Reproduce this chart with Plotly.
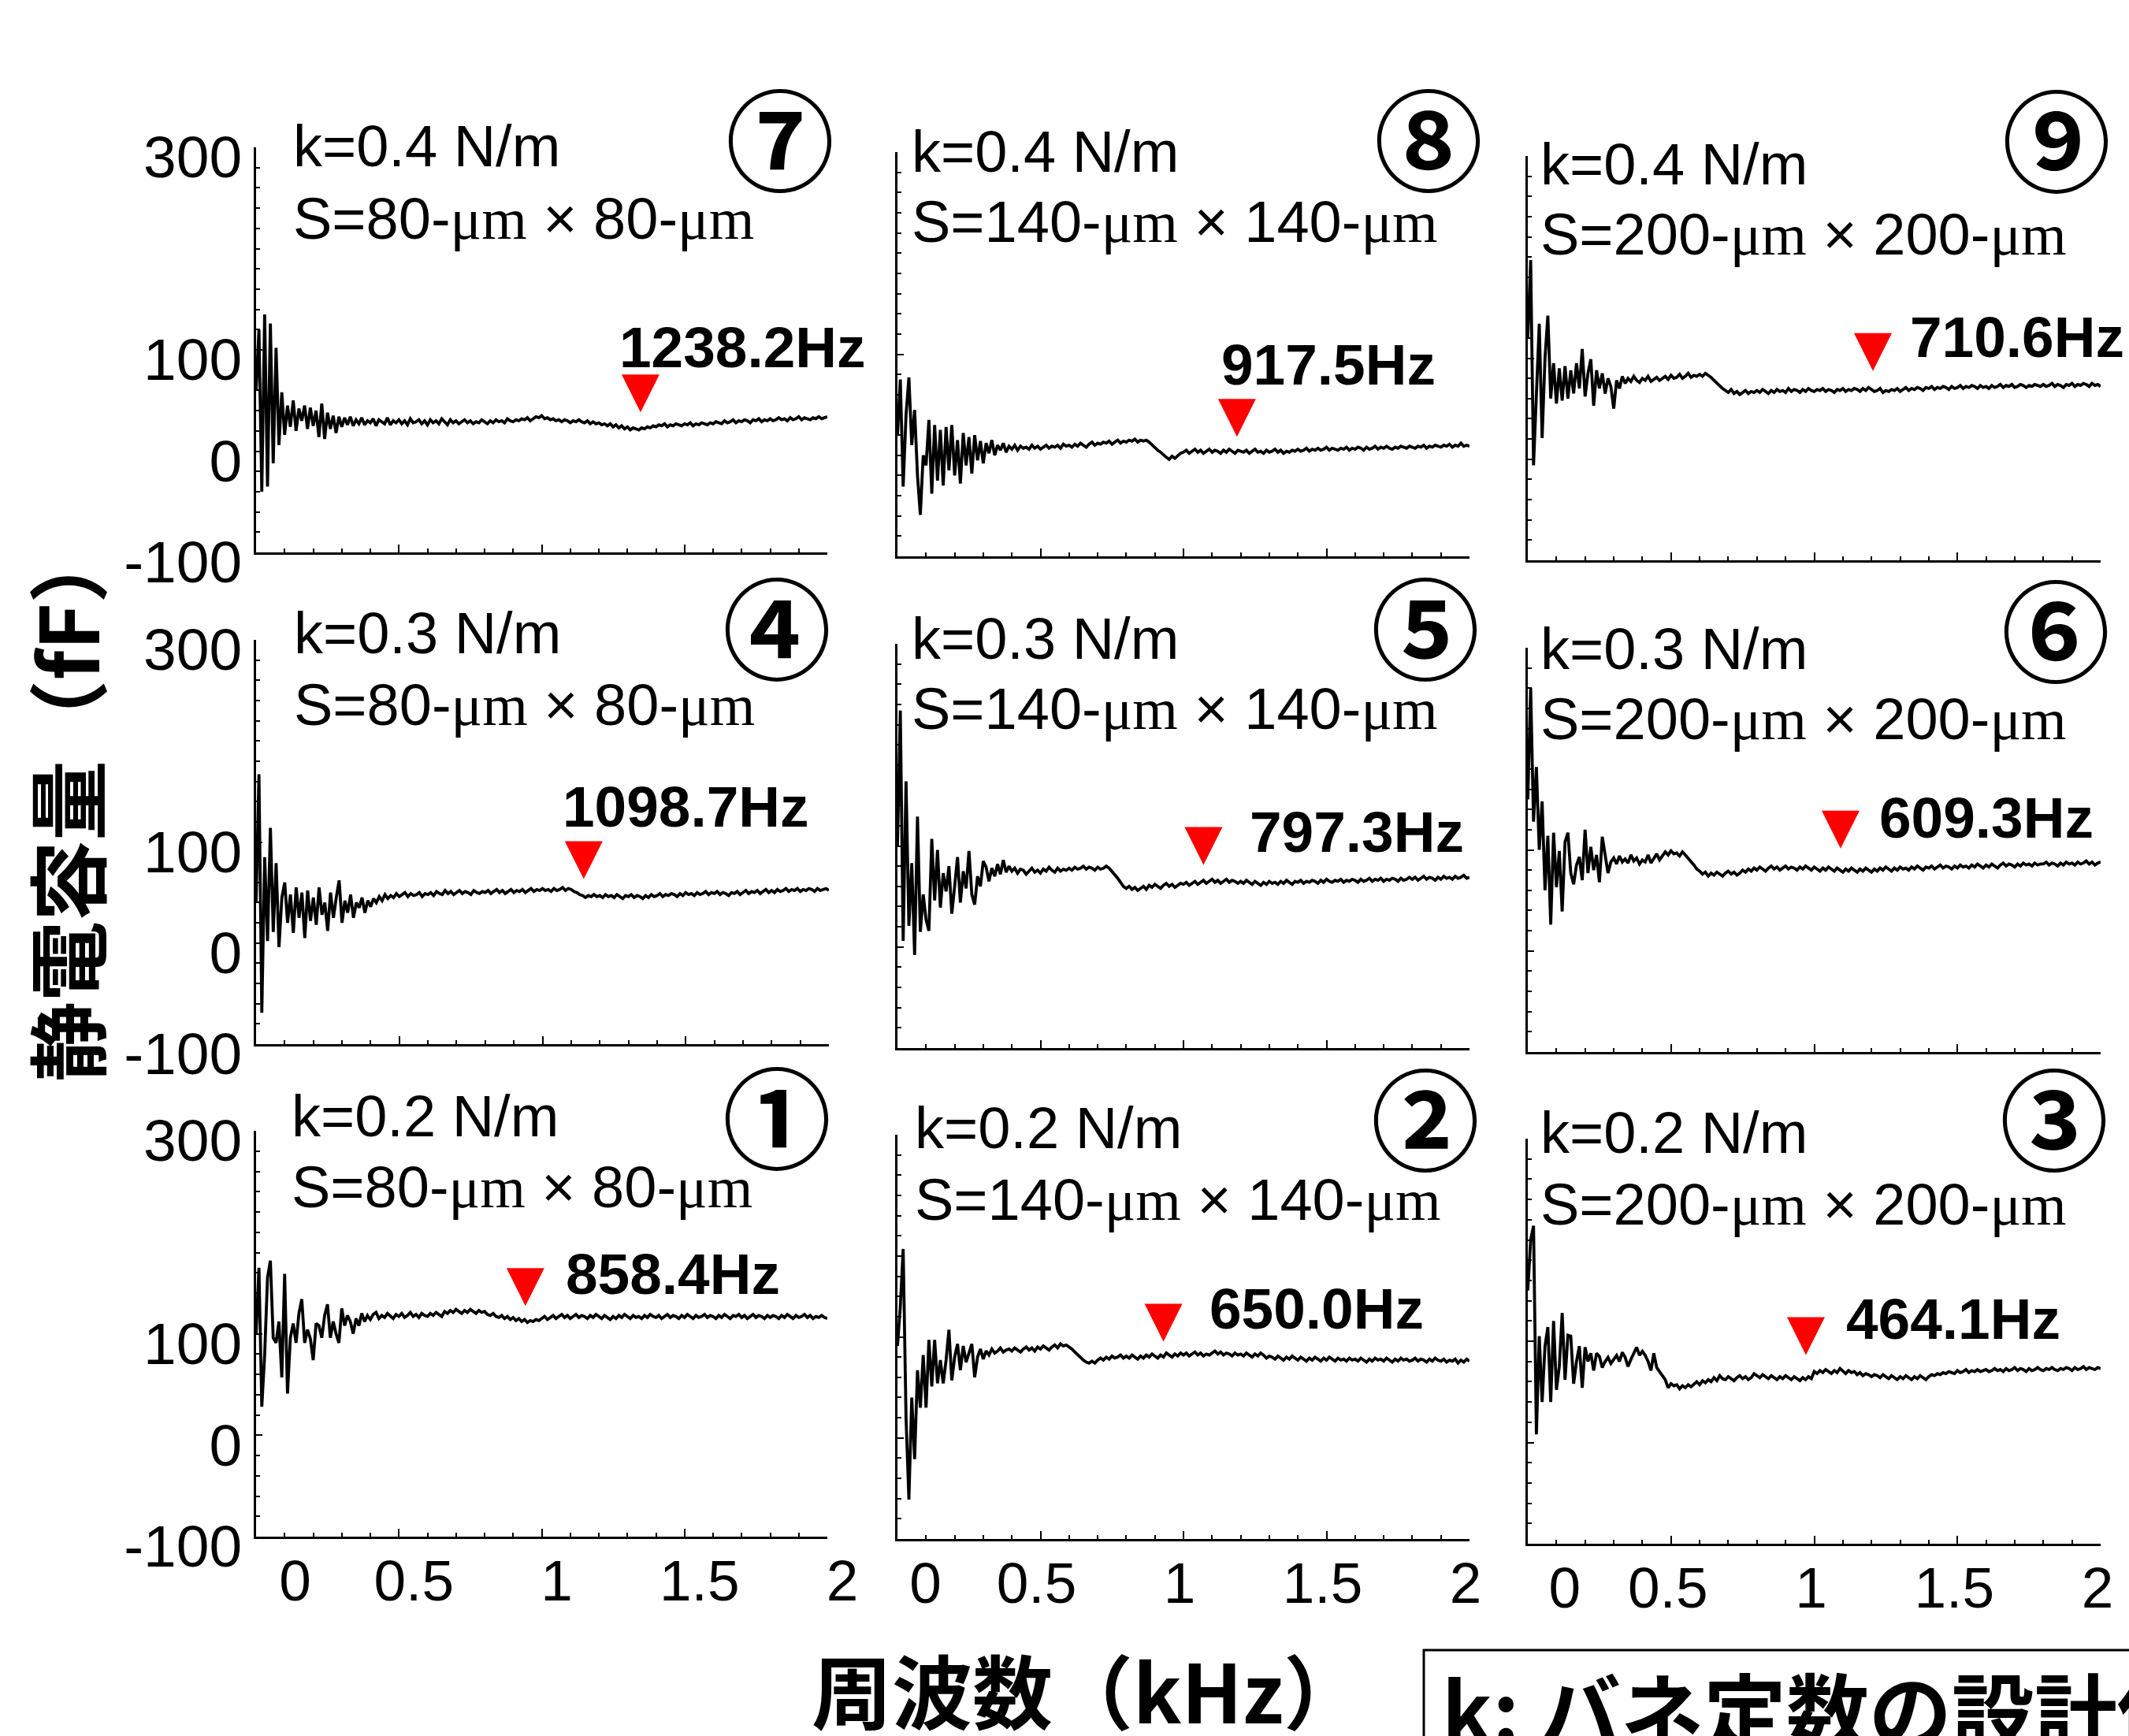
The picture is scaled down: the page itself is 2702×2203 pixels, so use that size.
import plotly.graph_objects as go

W, H = 2702, 2203

# ------------------------------------------------------------------ data
freq_khz = [round(i * 0.01, 2) for i in range(201)]  # sampling grid, kHz

cap1 = [100, 165, 28, 79, 155, 172, 96, 91, 112, 57, 159, 41, 96, 110, 91, 120, 134, 91, 104, 95,
        74, 110, 108, 96, 118, 129, 96, 112, 100, 91, 125, 108, 118, 112, 100, 115, 108, 120, 112, 118,
        114, 119, 121, 115, 118, 116, 120, 117, 115, 119, 117, 120, 116, 118, 121, 117, 119, 116, 120, 118,
        117, 120, 118, 121, 119, 117, 122, 120, 123, 121, 124, 122, 120, 123, 121, 124, 122, 120, 123, 121,
        122, 119, 118, 120, 117, 116, 118, 115, 117, 114, 116, 113, 115, 112, 114, 111, 113, 112, 114, 113,
        115, 117, 114, 116, 118, 115, 117, 119, 116, 118, 115, 117, 119, 116, 118, 117, 115, 118, 116, 119,
        117, 115, 118, 116, 114, 117, 115, 118, 116, 119, 117, 115, 118, 116, 117, 115, 118, 116, 119, 117,
        116, 118, 115, 117, 119, 116, 118, 117, 115, 118, 116, 119, 117, 115, 118, 116, 117, 119, 116, 118,
        117, 115, 118, 116, 119, 117, 115, 118, 117, 119, 116, 118, 115, 117, 119, 116, 118, 117, 115, 118,
        116, 118, 117, 115, 118, 116, 119, 117, 115, 118, 116, 117, 119, 116, 118, 115, 117, 116, 118, 116,
        115]

cap2 = [91, 130, 187, 20, -61, 40, -21, 67, 30, 82, 30, 97, 51, 97, 54, 77, 54, 77, 107, 57,
        80, 93, 67, 91, 75, 85, 93, 60, 80, 88, 78, 86, 82, 88, 84, 86, 89, 85, 87, 88,
        86, 89, 87, 85, 88, 90, 87, 89, 86, 90, 88, 91, 89, 87, 90, 92, 89, 93, 91, 92,
        90, 88, 85, 82, 79, 77, 75, 74, 76, 74, 77, 79, 77, 80, 78, 81, 79, 80, 82, 79,
        81, 79, 82, 80, 78, 81, 79, 82, 80, 83, 81, 79, 82, 80, 84, 82, 80, 83, 81, 84,
        82, 84, 81, 83, 85, 82, 84, 81, 83, 82, 84, 86, 83, 85, 82, 84, 83, 81, 84, 82,
        83, 81, 84, 82, 80, 83, 81, 84, 82, 79, 81, 80, 78, 81, 79, 77, 80, 78, 81, 79,
        77, 80, 78, 76, 79, 77, 80, 78, 76, 79, 77, 80, 78, 76, 79, 77, 78, 76, 79, 77,
        78, 76, 79, 77, 75, 78, 76, 79, 77, 78, 76, 79, 77, 75, 78, 76, 79, 77, 78, 76,
        77, 79, 76, 78, 77, 75, 78, 76, 79, 77, 76, 78, 75, 77, 76, 78, 74, 77, 75, 78,
        76]

cap3 = [150, 200, 214, 8, 105, 40, 95, 114, 40, 120, 52, 75, 128, 62, 106, 105, 58, 80, 95, 54,
        94, 80, 88, 71, 88, 85, 74, 80, 84, 78, 82, 86, 80, 89, 84, 75, 82, 88, 94, 86,
        90, 86, 80, 71, 88, 74, 70, 66, 62, 54, 58, 56, 57, 53, 56, 54, 57, 55, 58, 60,
        57, 61, 59, 62, 60, 64, 61, 66, 63, 62, 65, 63, 61, 64, 66, 63, 65, 62, 64, 68,
        66, 64, 67, 65, 63, 66, 64, 62, 65, 63, 66, 64, 62, 65, 63, 61, 64, 62, 65, 63,
        70, 68, 71, 69, 72, 70, 68, 71, 69, 73, 70, 68, 71, 69, 70, 67, 69, 66, 68, 67,
        65, 67, 66, 64, 67, 65, 63, 66, 64, 62, 65, 63, 66, 64, 62, 65, 63, 66, 64, 62,
        65, 67, 66, 68, 67, 69, 68, 70, 69, 68, 71, 69, 70, 72, 69, 71, 70, 72, 70, 71,
        72, 70, 71, 73, 71, 72, 70, 73, 71, 72, 74, 71, 73, 72, 70, 73, 71, 72, 74, 72,
        71, 73, 72, 74, 72, 71, 73, 72, 74, 73, 71, 74, 72, 73, 75, 72, 74, 73, 72, 74,
        73]

cap4 = [40, 167, -69, 85, 2, 114, 11, 79, -4, 45, 60, 20, 48, 10, 55, 25, 50, 5, 52, 22,
        45, 18, 55, 28, 40, 12, 50, 25, 45, 62, 20, 42, 30, 48, 25, 40, 35, 45, 30, 42,
        36, 44, 40, 46, 42, 48, 44, 47, 45, 49, 46, 48, 50, 46, 49, 47, 48, 50, 46, 49,
        48, 50, 47, 51, 49, 48, 52, 49, 51, 48, 50, 52, 49, 51, 50, 48, 52, 50, 49, 51,
        50, 52, 49, 51, 53, 50, 52, 49, 51, 53, 50, 52, 51, 53, 50, 52, 54, 51, 53, 52,
        54, 52, 53, 51, 54, 52, 53, 55, 52, 54, 53, 51, 50, 48, 47, 45, 47, 46, 48, 46,
        47, 45, 48, 46, 47, 45, 48, 46, 44, 47, 46, 48, 45, 47, 46, 44, 47, 45, 48, 46,
        47, 49, 46, 48, 47, 49, 48, 46, 49, 47, 50, 48, 49, 47, 50, 48, 49, 51, 48, 50,
        49, 51, 48, 50, 49, 47, 50, 49, 51, 48, 50, 52, 49, 51, 50, 52, 49, 51, 53, 50,
        52, 50, 53, 51, 52, 54, 51, 53, 52, 54, 51, 53, 52, 54, 53, 51, 54, 52, 53, 54,
        52]

cap5 = [100, 234, 6, 164, 21, 83, -8, 129, 15, 52, 27, 16, 107, 46, 96, 39, 73, 55, 80, 33,
        60, 89, 44, 75, 58, 95, 52, 42, 70, 60, 85, 79, 65, 78, 70, 82, 72, 86, 74, 80,
        75, 78, 73, 77, 76, 72, 75, 78, 74, 76, 73, 77, 75, 79, 76, 74, 78, 75, 77, 76,
        78, 76, 79, 77, 78, 80, 77, 79, 78, 76, 79, 77, 78, 80, 78, 75, 72, 68, 64, 60,
        58, 60, 57, 59, 56, 58, 60, 57, 61, 59, 62, 60, 58, 61, 63, 60, 62, 59, 61, 63,
        62, 64, 61, 63, 65, 62, 64, 66, 63, 65, 67, 64, 66, 63, 65, 67, 64, 66, 65, 63,
        65, 63, 66, 64, 62, 65, 63, 61, 64, 62, 65, 63, 64, 62, 65, 63, 66, 64, 62, 65,
        64, 66, 63, 65, 64, 66, 65, 63, 66, 64, 67, 65, 64, 66, 65, 67, 64, 66, 65, 67,
        66, 64, 67, 65, 66, 68, 65, 67, 66, 68, 65, 67, 66, 68, 67, 65, 68, 66, 67, 69,
        67, 69, 66, 68, 70, 67, 69, 68, 66, 69, 67, 70, 68, 69, 67, 70, 68, 69, 71, 68,
        69]

cap6 = [150, 260, 128, 182, 100, 148, 60, 114, 26, 117, 63, 99, 39, 108, 117, 77, 66, 85, 93, 70,
        120, 77, 103, 80, 95, 68, 113, 93, 77, 88, 92, 86, 94, 88, 91, 87, 95, 89, 92, 86,
        90, 88, 95, 87, 92, 96, 90, 94, 98, 95, 99, 96, 97, 94, 98, 95, 92, 88, 85, 81,
        79, 76, 78, 74, 77, 75, 78, 76, 74, 77, 79, 76, 78, 75, 77, 80, 78, 81, 79, 82,
        80, 83, 81, 79, 82, 84, 81, 83, 80, 82, 84, 81, 83, 82, 80, 83, 81, 84, 82, 80,
        83, 81, 79, 82, 80, 83, 81, 79, 82, 80, 78, 81, 79, 82, 80, 78, 81, 79, 82, 80,
        78, 81, 79, 82, 80, 83, 81, 79, 82, 80, 83, 81, 82, 80, 83, 81, 84, 82, 80, 83,
        82, 84, 81, 83, 85, 82, 84, 83, 81, 84, 82, 85, 83, 84, 82, 85, 83, 86, 84, 82,
        85, 83, 86, 84, 82, 85, 87, 84, 86, 85, 83, 86, 84, 87, 85, 86, 84, 87, 85, 86,
        86, 88, 85, 87, 86, 84, 87, 85, 88, 86, 87, 85, 88, 86, 87, 89, 86, 88, 85, 87,
        88]

cap7 = [60, 120, -40, 135, -35, 126, -12, 102, 6, 58, 16, 45, 24, 50, 20, 42, 30, 45, 22, 43,
        25, 40, 14, 47, 12, 38, 22, 35, 18, 34, 24, 33, 26, 34, 25, 31, 27, 33, 26, 30,
        28, 32, 25, 31, 29, 27, 33, 26, 30, 28, 31, 27, 30, 26, 32, 28, 29, 31, 27, 30,
        26, 31, 28, 30, 27, 32, 29, 26, 31, 28, 30, 27, 29, 31, 28, 30, 27, 29, 28, 31,
        29, 27, 30, 28, 31, 29, 30, 28, 32, 30, 29, 31, 30, 32, 31, 33, 30, 32, 34, 33,
        35, 32, 33, 31, 32, 30, 31, 29, 31, 30, 28, 30, 29, 31, 29, 28, 30, 27, 29, 27,
        28, 26, 27, 25, 27, 24, 26, 23, 25, 22, 24, 21, 23, 22, 21, 23, 22, 24, 23, 25,
        24, 26, 25, 27, 24, 26, 25, 27, 26, 25, 27, 26, 28, 25, 27, 26, 28, 27, 26, 28,
        27, 29, 28, 27, 30, 28, 29, 31, 28, 30, 29, 31, 30, 28, 31, 30, 32, 29, 31, 30,
        32, 30, 31, 33, 31, 32, 30, 33, 31, 32, 34, 31, 33, 32, 31, 33, 32, 34, 32, 33,
        34]

cap8 = [20, 75, -31, 40, 77, 10, 45, -20, -59, 0, -10, 35, -38, 30, -25, 25, -30, 28, -15, 30,
        -20, 15, -28, 22, -10, 18, -18, 20, -5, 14, -8, 12, 2, 15, 0, 10, 5, 12, 3, 9,
        6, 10, 5, 9, 7, 8, 6, 10, 7, 9, 6, 8, 10, 7, 9, 8, 10, 7, 11, 9,
        10, 8, 11, 9, 12, 10, 8, 11, 13, 10, 12, 11, 13, 12, 14, 11, 13, 15, 12, 14,
        13, 15, 14, 16, 13, 15, 14, 15, 13, 10, 7, 5, 3, 0, -2, -4, -1, -3, 0, 2,
        3, 5, 2, 4, 6, 3, 5, 2, 4, 6, 3, 5, 4, 2, 5, 3, 6, 4, 2, 5,
        4, 3, 5, 2, 4, 6, 3, 4, 2, 5, 3, 4, 6, 3, 5, 2, 4, 3, 5, 4,
        6, 4, 5, 7, 4, 6, 5, 7, 5, 6, 8, 5, 7, 6, 5, 7, 6, 8, 5, 7,
        6, 8, 7, 5, 8, 6, 7, 9, 6, 8, 7, 9, 7, 6, 8, 7, 9, 8, 7, 9,
        8, 7, 9, 8, 10, 7, 9, 8, 10, 9, 8, 10, 9, 11, 8, 10, 9, 12, 9, 10,
        9]

cap9 = [120, 197, -6, 60, 134, 21, 100, 142, 60, 95, 55, 90, 58, 92, 60, 88, 65, 95, 70, 109,
        62, 85, 99, 53, 88, 70, 85, 65, 80, 72, 50, 78, 70, 82, 75, 80, 77, 82, 78, 76,
        80, 78, 82, 77, 79, 81, 78, 80, 82, 79, 83, 80, 81, 84, 80, 82, 85, 81, 83, 82,
        84, 82, 85, 83, 81, 78, 75, 72, 70, 68, 66, 69, 65, 67, 64, 66, 68, 65, 67, 66,
        68, 66, 69, 67, 65, 68, 66, 69, 67, 68, 66, 70, 67, 69, 68, 66, 69, 67, 70, 68,
        67, 69, 68, 70, 67, 69, 68, 66, 69, 68, 70, 67, 69, 68, 70, 69, 67, 70, 68, 71,
        69, 67, 68, 70, 66, 68, 67, 69, 68, 70, 67, 69, 71, 68, 70, 69, 71, 70, 68, 71,
        70, 72, 69, 71, 70, 72, 71, 69, 72, 70, 71, 73, 70, 72, 71, 73, 72, 70, 73, 71,
        72, 70, 73, 71, 72, 74, 71, 73, 72, 74, 71, 72, 74, 73, 71, 73, 72, 74, 73, 72,
        74, 72, 73, 75, 72, 74, 73, 71, 74, 73, 75, 72, 74, 73, 75, 74, 72, 75, 73, 74,
        72]

capacitance = [cap1, cap2, cap3, cap4, cap5, cap6, cap7, cap8, cap9]
for c in capacitance:
    assert len(c) == len(freq_khz), len(c)

panel_no = [1, 2, 3, 4, 5, 6, 7, 8, 9]
circled = ["①", "②", "③", "④", "⑤", "⑥", "⑦", "⑧", "⑨"]
spring_k = ["0.2", "0.2", "0.2", "0.3", "0.3", "0.3", "0.4", "0.4", "0.4"]
side_um = ["80", "140", "200", "80", "140", "200", "80", "140", "200"]
resonance_text = ["858.4Hz", "650.0Hz", "464.1Hz", "1098.7Hz", "797.3Hz",
                  "609.3Hz", "1238.2Hz", "917.5Hz", "710.6Hz"]
marker_khz = [0.943, 0.930, 0.971, 1.144, 1.070, 1.092, 1.346, 1.187, 1.205]
marker_ff = [146, 114, 105, 82, 100, 120, 57, 37, 106]

x_tick_vals = [0, 0.5, 1, 1.5, 2]
x_tick_text = ["0", "0.5", "1", "1.5", "2"]
y_tick_vals = [-100, 0, 100, 300]
y_tick_text = ["-100", "0", "100", "300"]

x_title = "周波数（kHz）"
y_title = "静電容量（fF）"
legend_text = "k: バネ定数の設計値"

# ------------------------------------------------------------------ layout (pixel geometry)
BOX = {
    7: (325, 1050, 187, 701), 8: (1139, 1865, 193, 706), 9: (1939, 2666, 198, 711),
    4: (325, 1052, 812, 1325), 5: (1139, 1865, 817, 1330), 6: (1939, 2666, 822, 1335),
    1: (325, 1050, 1435, 1950), 2: (1139, 1865, 1440, 1953), 3: (1939, 2666, 1445, 1959),
}
COL = {1: 0, 2: 1, 3: 2, 4: 0, 5: 1, 6: 2, 7: 0, 8: 1, 9: 2}
ROW = {1: 2, 2: 2, 3: 2, 4: 1, 5: 1, 6: 1, 7: 0, 8: 0, 9: 0}
# k-line (left px, centre px), S-line centre px, circled number centre (px, px)
TXT = {
    7: (370, 186, 278, 990, 171), 8: (1155, 193, 282, 1813, 171), 9: (1953, 209, 297, 2610, 172),
    4: (371, 803, 894, 986, 791), 5: (1155, 810, 899, 1809, 791), 6: (1953, 823, 913, 2609, 794),
    1: (368, 1416, 1506, 986, 1412), 2: (1159, 1431, 1522, 1809, 1414), 3: (1953, 1437, 1528, 2607, 1414),
}
LAB = {1: (1.079, 159), 2: (1.085, 128), 3: (1.106, 122), 4: (1.065, 135), 5: (1.226, 114),
       6: (1.221, 132), 7: (1.266, 103), 8: (1.127, 90), 9: (1.329, 121)}
XSHIFT = [19, -5, -4]
ZERO_PAD = [3, 4, 5]

SANS = "Liberation Sans, Arial, sans-serif"
CJK = "Noto Sans CJK JP, sans-serif"


def px_x(px):
    return px / W


def px_y(py):
    return 1 - py / H


fig = go.Figure()
annotations = []
shapes = []

for idx, pid in enumerate(panel_no):
    sfx = "" if pid == 1 else str(pid)
    xr, yr = "x" + sfx, "y" + sfx
    x0, x1, y0, y1 = BOX[pid]
    col, row = COL[pid], ROW[pid]

    fig.add_trace(go.Scatter(x=freq_khz, y=capacitance[idx], mode="lines",
                             line=dict(color="black", width=3.8),
                             xaxis=xr, yaxis=yr, showlegend=False, hoverinfo="skip"))

    xt = list(x_tick_text)
    xt[0] = "\u00a0" * ZERO_PAD[col] + xt[0]
    fig.layout["xaxis" + sfx] = dict(
        domain=[px_x(x0), px_x(x1)], anchor=yr, range=[0, 2], automargin=False,
        showgrid=False, zeroline=False, showline=True, linecolor="black", linewidth=2.5,
        ticks="inside", ticklen=10, tickwidth=2, tickcolor="black",
        tickmode="array", tickvals=x_tick_vals, ticktext=xt, tickangle=0,
        showticklabels=(row == 2), ticklabelshift=XSHIFT[col], ticklabelstandoff=-9,
        tickfont=dict(family=SANS, size=73, color="black"),
        minor=dict(ticks="inside", tick0=0, dtick=0.1, ticklen=5, tickwidth=2, tickcolor="black"),
        fixedrange=True)
    fig.layout["yaxis" + sfx] = dict(
        domain=[px_y(y1), px_y(y0)], anchor=xr, range=[-100, 300], automargin=False,
        showgrid=False, zeroline=False, showline=True, linecolor="black", linewidth=2.5,
        ticks="inside", ticklen=8, tickwidth=2, tickcolor="black",
        tickmode="array", tickvals=y_tick_vals, ticktext=y_tick_text,
        showticklabels=(col == 0), ticklabelshift=12, ticklabelstandoff=0,
        tickfont=dict(family=SANS, size=75, color="black"),
        minor=dict(ticks="inside", tick0=-100, dtick=20, ticklen=5, tickwidth=2, tickcolor="black"),
        fixedrange=True)

    shapes.append(dict(type="path", xref=xr, yref=yr, xsizemode="pixel", ysizemode="pixel",
                       xanchor=marker_khz[idx], yanchor=marker_ff[idx],
                       path="M-24,24 L24,24 L0,-24 Z", fillcolor="#ff0000",
                       line=dict(width=0)))
    lx, ly = LAB[pid]
    annotations.append(dict(xref=xr, yref=yr, x=lx, y=ly, xanchor="left", yanchor="middle",
                            text="<b>" + resonance_text[idx] + "</b>", showarrow=False,
                            font=dict(family=SANS, size=73, color="black")))

    kx, ky, sy, cx, cy = TXT[pid]
    annotations.append(dict(xref="paper", yref="paper", x=px_x(kx), y=px_y(ky),
                            xanchor="left", yanchor="middle", showarrow=False,
                            text="k=" + spring_k[idx] + " N/m",
                            font=dict(family=SANS, size=74, color="black")))
    mu = "<span style='font-family:Liberation Serif'>μm</span>"
    annotations.append(dict(xref="paper", yref="paper", x=px_x(kx), y=px_y(sy),
                            xanchor="left", yanchor="middle", showarrow=False,
                            text="S=" + side_um[idx] + "-" + mu + " × " + side_um[idx] + "-" + mu,
                            font=dict(family=SANS, size=74, color="black")))
    annotations.append(dict(xref="paper", yref="paper", x=px_x(cx), y=px_y(cy),
                            xanchor="center", yanchor="middle", showarrow=False,
                            text="<b>" + circled[idx] + "</b>",
                            font=dict(family=CJK, size=138, color="black")))

annotations.append(dict(xref="paper", yref="paper", x=px_x(1380), y=px_y(2142),
                        xanchor="center", yanchor="middle", showarrow=False,
                        text="<b>" + x_title + "</b>",
                        font=dict(family=CJK, size=102, color="black")))
annotations.append(dict(xref="paper", yref="paper", x=px_x(81), y=px_y(1018),
                        xanchor="center", yanchor="middle", showarrow=False, textangle=-90,
                        text="<b>" + y_title + "</b>",
                        font=dict(family=CJK, size=102, color="black")))
shapes.append(dict(type="rect", xref="paper", yref="paper",
                   x0=px_x(1807), x1=px_x(2760), y0=px_y(2260), y1=px_y(2094),
                   line=dict(color="black", width=3), fillcolor="rgba(0,0,0,0)"))
annotations.append(dict(xref="paper", yref="paper", x=px_x(1828), y=px_y(2166),
                        xanchor="left", yanchor="middle", showarrow=False,
                        text="<b>" + legend_text + "</b>",
                        font=dict(family=CJK, size=105, color="black")))

fig.update_layout(template="none", width=W, height=H,
                  margin=dict(l=0, r=0, t=0, b=0, autoexpand=False),
                  paper_bgcolor="white", plot_bgcolor="white",
                  annotations=annotations, shapes=shapes, showlegend=False)

fig.write_html("out.html", post_script="document.body.style.margin='0';",
               config={"displayModeBar": False})
